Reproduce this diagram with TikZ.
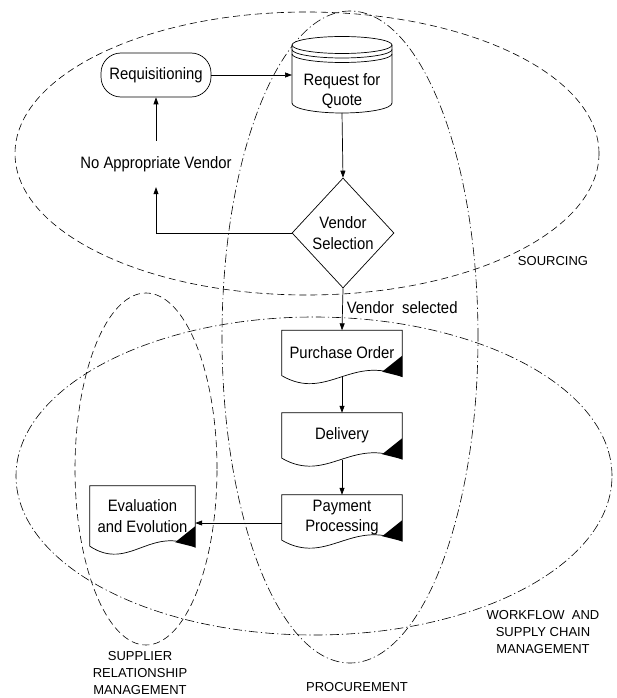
\documentclass[tikz,border=0pt]{standalone}
\usepackage{fontspec}
\setmainfont{Liberation Sans}[FakeStretch=0.9]
\newfontfamily\lblfont{Liberation Sans}
\usetikzlibrary{arrows.meta,shapes.geometric,calc,backgrounds}
\newcommand\docshape[2]{%
  \draw[shapeline, fill=white] (#1.north west) -- (#1.north east) -- ($(#1.south east)+(0,1)$)
    .. controls ($(#1.south west)+(0.583*#2,-22)$) and ($(#1.south west)+(0.375*#2,26)$) .. (#1.south west) -- cycle;
  \fill ($(#1.south east)+(0,-20)$) -- ($(#1.south east)+(-20,-4)$) -- ($(#1.south east)+(0,1)$) -- cycle;}
\begin{document}
\begin{tikzpicture}[x=1pt,y=-1pt,
  main/.style={font=\fontsize{16.5}{20.5}\selectfont, align=center},
  lbl/.style={font=\lblfont\fontsize{13}{17}\selectfont, align=center},
  shapeline/.style={line width=0.7pt},
  arr/.style={-{Triangle[length=7pt,width=5pt]}, line width=0.7pt},
  region/.style={line width=0.6pt, dash pattern=on 7pt off 4pt},
  regiondd/.style={line width=0.6pt, dash pattern=on 9pt off 3pt on 1.2pt off 3pt},
  docbox/.style={minimum width=120pt, minimum height=45pt, inner sep=0pt, main}]
\useasboundingbox (0,0) rectangle (616,698);

% text nodes
\node[main, draw, shapeline, fill=white, rounded corners=20pt, minimum width=110pt, minimum height=44pt, inner sep=0pt] (req) at (156,75) {Requisitioning};
\node[main, minimum height=46pt, inner sep=0pt] (nav) at (156,164) {No Appropriate Vendor};
\node[main, diamond, draw, shapeline, fill=white, minimum width=102pt, minimum height=110pt, inner sep=0pt] (vs) at (343,233) {Vendor\\Selection};
\node[docbox] (po) at (342,353) {Purchase Order};
\node[docbox] (del) at (342,435.5) {Delivery};
\node[docbox] (pay) at (342,517.5) {Payment\\Processing};
\node[docbox, minimum width=105pt, minimum height=60pt] (ev) at (142.5,516) {Evaluation\\and Evolution};
\node[main] (rfq) at (342,91) {Request for\\Quote};
\coordinate (rfqW) at (292,75);
\coordinate (rfqS) at (342,113);

\begin{scope}[on background layer]
  \draw[region] (307,153.5) ellipse[x radius=292pt, y radius=141.5pt];
  \draw[regiondd] (350,337) ellipse[x radius=128pt, y radius=326pt];
  \draw[regiondd] (314,476) ellipse[x radius=298pt, y radius=159pt];
  \draw[region] (146,469) ellipse[x radius=71pt, y radius=176pt];
  % cylinder
  \fill[white] (292,45) -- (292,103) arc[start angle=180,end angle=360,x radius=50pt,y radius=10pt]
     -- (392,45) arc[start angle=0,end angle=180,x radius=50pt,y radius=8.5pt] -- cycle;
  \draw[shapeline] (292,45) -- (292,103) arc[start angle=180,end angle=360,x radius=50pt,y radius=10pt] -- (392,45);
  \draw[shapeline] (342,45) ellipse[x radius=50pt, y radius=8.5pt];
  \draw[shapeline] (292,49.5) arc[start angle=180,end angle=360,x radius=50pt,y radius=8.5pt];
  \draw[shapeline] (292,54) arc[start angle=180,end angle=360,x radius=50pt,y radius=8.5pt];
  % documents
  \docshape{po}{120}
  \docshape{del}{120}
  \docshape{pay}{120}
  \docshape{ev}{105}
\end{scope}

% connectors
\draw[arr] (req.east) -- (rfqW);
\draw[arr] (rfqS) -- (vs.north);
\draw[arr] (vs.west) -| (nav.south);
\draw[arr] (nav.north) -- (req.south);
\draw[arr] (vs.south) -- node[pos=0.45, right, main, inner sep=2pt, xshift=2pt] {Vendor\ \ selected} (po.north);
\draw[arr] ([yshift=-1.5pt]po.south) -- (del.north);
\draw[arr] ([yshift=-1.5pt]del.south) -- (pay.north);
\draw[arr] (pay.west |- 0,523) -- (ev.east |- 0,523);

% region labels
\node[lbl] (srcl) at (553,261) {SOURCING};
\node[lbl] (wfl) at (543,632) {WORKFLOW\ \ AND\\SUPPLY CHAIN\\MANAGEMENT};
\node[lbl] (srl) at (140,673) {SUPPLIER\\RELATIONSHIP\\MANAGEMENT};
\node[lbl] (prl) at (357,687) {PROCUREMENT};
\end{tikzpicture}
\end{document}
